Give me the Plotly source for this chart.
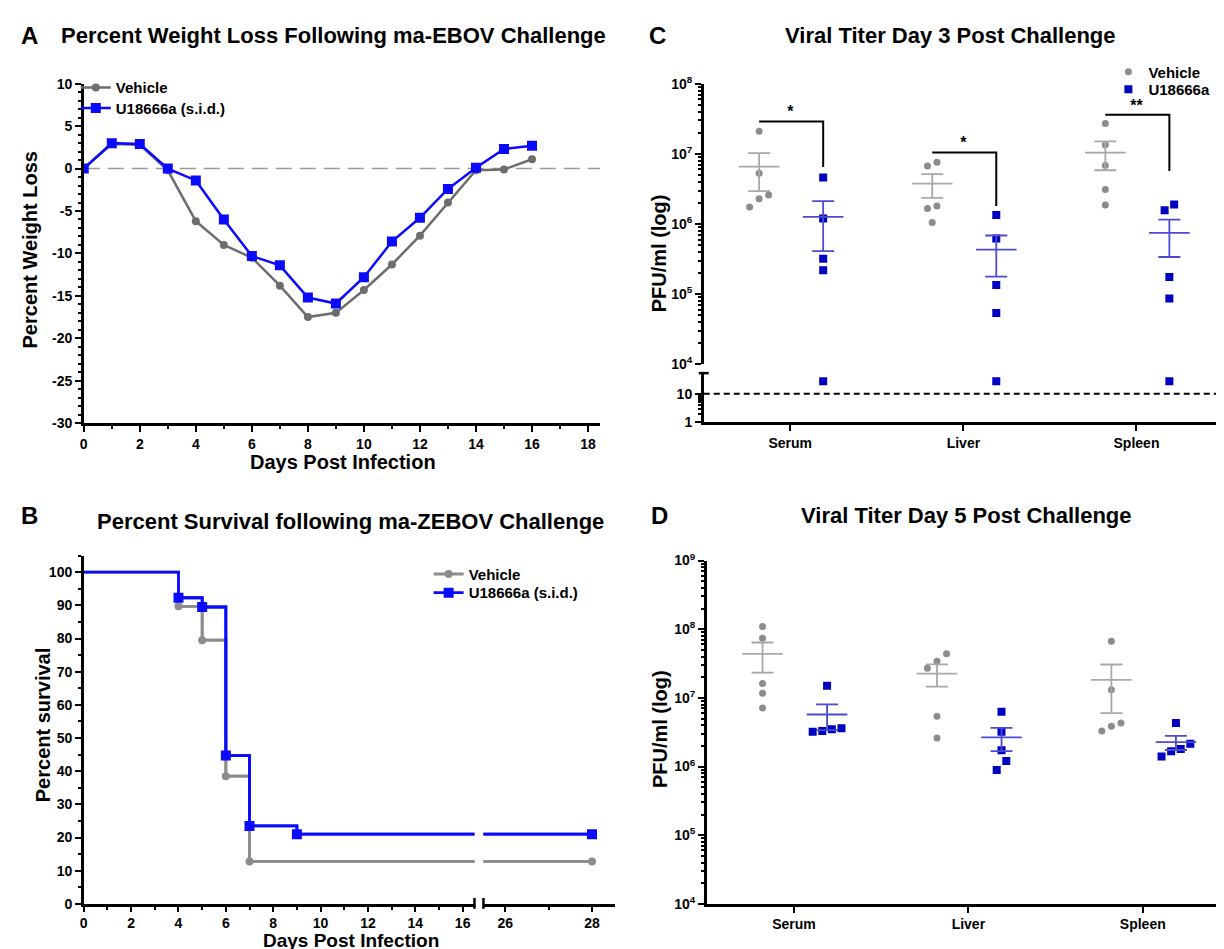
import numpy as np
import plotly.graph_objects as go

# ---- data -------------------------------------------------------------
# A: percent weight change after ma-EBOV challenge
days = list(range(0, 17))
weight_vehicle = [0, 2.9, 2.8, -0.2, -6.2, -9.0, -10.5, -13.8, -17.5, -17.0,
                  -14.3, -11.3, -7.9, -4.0, -0.2, -0.1, 1.1]
weight_u18666a = [0, 3.0, 2.9, 0.0, -1.4, -6.0, -10.3, -11.4, -15.2, -15.9,
                  -12.8, -8.6, -5.8, -2.4, 0.1, 2.3, 2.7]

# B: Kaplan-Meier survival
surv_days_vehicle = [0, 4, 5, 6, 7, 28]
surv_vehicle = [100, 89.7, 79.5, 38.5, 12.8, 12.8]
surv_days_u18666a = [0, 4, 5, 6, 7, 9, 28]
surv_u18666a = [100, 92.3, 89.5, 44.7, 23.5, 21.0, 21.0]

# C / D: viral titers (PFU/ml), five animals per group
organs = ["Serum", "Liver", "Spleen"]
d3_vehicle = [[2.1e7, 5.3e6, 2.6e6, 2.3e6, 1.75e6],
              [7.6e6, 6.7e6, 1.8e6, 1.66e6, 1.05e6],
              [2.7e7, 1.35e7, 6.8e6, 3.1e6, 1.86e6]]
d3_u18666a = [[4.6e6, 1.2e6, 3.2e5, 2.2e5, 27],
              [1.35e6, 6.2e5, 1.35e5, 5.4e4, 27],
              [1.9e6, 1.57e6, 1.75e5, 8.7e4, 27]]
d3_sig = ["*", "*", "**"]
d3_bracket_top = [2.9e7, 1.05e7, 3.6e7]
d3_bracket_bottom = [6.5e6, 1.8e6, 5.7e6]
d3_lod = 10

d5_vehicle = [[1.09e8, 7.4e7, 1.62e7, 1.17e7, 7.1e6],
              [4.4e7, 3.4e7, 2.7e7, 5.4e6, 2.6e6],
              [6.7e7, 1.31e7, 4.3e6, 3.85e6, 3.3e6]]
d5_u18666a = [[1.5e7, 3.6e6, 3.5e6, 3.3e6, 3.2e6],
              [6.3e6, 3.2e6, 1.73e6, 1.2e6, 8.9e5],
              [4.3e6, 2.15e6, 1.8e6, 1.67e6, 1.4e6]]

# ---- style ------------------------------------------------------------
W, H = 1224, 949
FONT = "Liberation Sans, Arial, sans-serif"
GREY_A = "#6d6d6d"
GREY = "#8c8c8c"
GREY_MEAN = "#a8a8a8"
BLUE = "#0a0aff"
DBLUE = "#0000c0"
BLUE_MEAN = "#4a4ad2"


def px(x):
    return x / W


def py(y):
    return 1 - y / H


def bold(size):
    return dict(family=FONT, size=size, color="black", weight="bold")


def swarm(values, center, step=0.055, gap=0.14):
    logs = np.log10(np.array(values, dtype=float))
    order = np.argsort(logs)
    xs = np.zeros(len(values))
    clusters = [[order[0]]]
    for prev, cur in zip(order[:-1], order[1:]):
        if logs[cur] - logs[prev] < gap:
            clusters[-1].append(cur)
        else:
            clusters.append([cur])
    for c in clusters:
        for k, idx in enumerate(c):
            xs[idx] = center + (k - (len(c) - 1) / 2) * step
    return xs


def log_minor(lo, hi):
    return [m * 10 ** d for d in range(lo, hi) for m in range(2, 10)]


axis_base = dict(showline=True, linecolor="black", linewidth=2.5, ticks="outside",
                 ticklen=6, tickwidth=2, tickcolor="black", showgrid=False,
                 zeroline=False, tickfont=bold(14), fixedrange=True)
minor_base = dict(ticks="outside", ticklen=3, tickwidth=1.5, tickcolor="black")

fig = go.Figure()

# ---- A ----------------------------------------------------------------
fig.add_trace(go.Scatter(x=days, y=weight_vehicle, mode="lines+markers", name="Vehicle",
                         line=dict(color=GREY_A, width=2.5),
                         marker=dict(symbol="circle", size=8, color=GREY_A),
                         xaxis="x", yaxis="y", legend="legend"))
fig.add_trace(go.Scatter(x=days, y=weight_u18666a, mode="lines+markers", name="U18666a (s.i.d.)",
                         line=dict(color=BLUE, width=2.5),
                         marker=dict(symbol="square", size=10, color=BLUE),
                         xaxis="x", yaxis="y", legend="legend2"))

# ---- B ----------------------------------------------------------------
for xa in ["x2", "x3"]:
    for d, s, col, sym, size, name, leg in [
            (surv_days_vehicle, surv_vehicle, GREY, "circle", 8, "Vehicle", "legend3"),
            (surv_days_u18666a, surv_u18666a, BLUE, "square", 10, "U18666a (s.i.d.)", "legend4")]:
        fig.add_trace(go.Scatter(x=d, y=s, mode="lines", line=dict(color=col, width=2.8, shape="hv"),
                                 xaxis=xa, yaxis="y2", showlegend=False, hoverinfo="skip"))
        fig.add_trace(go.Scatter(x=d[1:], y=s[1:], mode="lines+markers", name=name,
                                 line=dict(color=col, width=2.8, shape="hv"),
                                 marker=dict(symbol=sym, size=size, color=col),
                                 xaxis=xa, yaxis="y2", legend=leg,
                                 showlegend=(xa == "x2")))


# ---- C / D helpers ----------------------------------------------------
def sem(v):
    v = np.array(v, dtype=float)
    return v.std(ddof=1) / np.sqrt(len(v))


def group_traces(data, offset, color, mean_color, symbol, size, name, xa, ya_hi, ya_lo,
                 legend, showlegend, split=1e4):
    xs_hi, ys_hi, xs_lo, ys_lo = [], [], [], []
    for i, vals in enumerate(data):
        xs = swarm(vals, i + offset)
        for x, v in zip(xs, vals):
            if v >= split:
                xs_hi.append(x)
                ys_hi.append(v)
            else:
                xs_lo.append(x)
                ys_lo.append(v)
    fig.add_trace(go.Scatter(x=xs_hi, y=ys_hi, mode="markers", name=name,
                             marker=dict(symbol=symbol, size=size, color=color),
                             xaxis=xa, yaxis=ya_hi, legend=legend, showlegend=showlegend))
    if xs_lo:
        fig.add_trace(go.Scatter(x=xs_lo, y=ys_lo, mode="markers", showlegend=False,
                                 marker=dict(symbol=symbol, size=size, color=color),
                                 xaxis=xa, yaxis=ya_lo))
    means = [float(np.mean(v)) for v in data]
    sems = [float(sem(v)) for v in data]
    fig.add_trace(go.Scatter(x=[i + offset for i in range(len(data))], y=means, mode="markers",
                             marker=dict(symbol="line-ew-open", size=29, color=mean_color,
                                         line=dict(color=mean_color, width=1.8)),
                             error_y=dict(type="data", array=sems, color=mean_color,
                                          thickness=1.8, width=11),
                             xaxis=xa, yaxis=ya_hi, showlegend=False, hoverinfo="skip"))


# ---- C ----------------------------------------------------------------
group_traces(d3_vehicle, -0.18, GREY, GREY_MEAN, "circle", 7, "Vehicle",
             "x4", "y5", "y4", "legend5", True)
group_traces(d3_u18666a, 0.19, DBLUE, BLUE_MEAN, "square", 8, "U18666a",
             "x4", "y5", "y4", "legend6", True)
for i, (lab, top, bot) in enumerate(zip(d3_sig, d3_bracket_top, d3_bracket_bottom)):
    fig.add_trace(go.Scatter(x=[i - 0.18, i + 0.19, i + 0.19], y=[top, top, bot], mode="lines",
                             line=dict(color="black", width=2), xaxis="x4", yaxis="y5",
                             showlegend=False, hoverinfo="skip"))
    fig.add_trace(go.Scatter(x=[i], y=[top], mode="text", text=[lab], textposition="top center",
                             textfont=bold(16), xaxis="x4", yaxis="y5", showlegend=False,
                             hoverinfo="skip"))
fig.add_trace(go.Scatter(x=[-0.5, 2.5], y=[d3_lod, d3_lod], mode="lines",
                         line=dict(color="black", width=2, dash="6px,4px"),
                         xaxis="x4", yaxis="y4", showlegend=False, hoverinfo="skip"))

# ---- D ----------------------------------------------------------------
group_traces(d5_vehicle, -0.18, GREY, GREY_MEAN, "circle", 7, "Vehicle",
             "x5", "y6", "y6", "legend5", False)
group_traces(d5_u18666a, 0.19, DBLUE, BLUE_MEAN, "square", 8, "U18666a",
             "x5", "y6", "y6", "legend6", False)

# ---- axes -------------------------------------------------------------
a_y = list(range(-30, 11, 5))
fig.update_layout(
    xaxis=dict(axis_base, domain=[px(72), px(590)], range=[0, 18.43], anchor="y",
               tickvals=list(range(0, 19, 2)), minor=dict(minor_base, dtick=1)),
    yaxis=dict(axis_base, domain=[py(413), py(67)], range=[-30, 10], anchor="x",
               tickvals=a_y, ticktext=[str(v) for v in a_y], minor=dict(minor_base, dtick=1)),
    xaxis2=dict(axis_base, domain=[px(72), px(464)], range=[0, 16.5], anchor="y2", ticklen=5,
                tickvals=list(range(0, 17, 2)), minor=dict(minor_base, dtick=1)),
    xaxis3=dict(axis_base, domain=[px(473), px(605)], range=[25.5, 28.53], anchor="y2", ticklen=5,
                tickvals=[26, 28], minor=dict(minor_base, tickvals=[27])),
    yaxis2=dict(axis_base, domain=[py(903), py(548)], range=[0, 105], anchor="x2",
                tickvals=list(range(0, 101, 10)), minor=dict(minor_base, dtick=5)),
    xaxis4=dict(axis_base, domain=[px(694), px(1215)], range=[-0.5, 2.5], anchor="y4",
                tickvals=[0, 1, 2], ticktext=organs),
    yaxis4=dict(axis_base, type="log", domain=[py(412), py(362)], range=[0, 1.72], anchor="x4",
                tickvals=[1, 10], ticktext=["1", "10"],
                minor=dict(minor_base, tickvals=log_minor(0, 1))),
    yaxis5=dict(axis_base, type="log", domain=[py(353), py(67)], range=[4, 8], anchor="x4",
                tickvals=[10 ** k for k in range(4, 9)],
                ticktext=["10<sup>%d</sup>" % k for k in range(4, 9)],
                minor=dict(minor_base, tickvals=log_minor(4, 8))),
    xaxis5=dict(axis_base, domain=[px(697), px(1222)], range=[-0.5, 2.5], anchor="y6",
                tickvals=[0, 1, 2], ticktext=organs),
    yaxis6=dict(axis_base, type="log", domain=[py(903), py(553)], range=[4, 9], anchor="x5",
                tickvals=[10 ** k for k in range(4, 10)],
                ticktext=["10<sup>%d</sup>" % k for k in range(4, 10)],
                minor=dict(minor_base, tickvals=log_minor(4, 9))),
)

# one legend per entry so each row sits where the reference puts it
legend_base = dict(bgcolor="rgba(0,0,0,0)", font=bold(15), itemwidth=30,
                   xanchor="left", yanchor="middle", borderwidth=0)
fig.update_layout(
    legend=dict(legend_base, x=px(64), y=py(71)),
    legend2=dict(legend_base, x=px(64), y=py(92)),
    legend3=dict(legend_base, x=px(418), y=py(567)),
    legend4=dict(legend_base, x=px(418), y=py(586)),
    legend5=dict(legend_base, x=px(1100), y=py(55)),
    legend6=dict(legend_base, x=px(1100), y=py(73)),
)

# ---- reference lines / break marks ------------------------------------
shapes = [
    dict(type="line", xref="x domain", yref="y", x0=0, x1=1, y0=0, y1=0,
         line=dict(color="#9a9a9a", width=1.5, dash="16px,8px"), layer="below"),
    dict(type="line", xref="paper", yref="paper", x0=px(464), x1=px(464), y0=py(908), y1=py(897),
         line=dict(color="black", width=2.5)),
    dict(type="line", xref="paper", yref="paper", x0=px(473), x1=px(473), y0=py(908), y1=py(897),
         line=dict(color="black", width=2.5)),
    dict(type="line", xref="paper", yref="paper", x0=px(689), x1=px(699), y0=py(362), y1=py(362),
         line=dict(color="black", width=2.5)),
]

# ---- titles -----------------------------------------------------------
ann = []


def text(x, y, s, size, angle=0):
    ann.append(dict(x=px(x), y=py(y), xref="paper", yref="paper", text=s, showarrow=False,
                    font=bold(size), textangle=angle, xanchor="center", yanchor="middle"))


text(18, 18, "A", 24)
text(18, 507, "B", 24)
text(648, 18, "C", 24)
text(650, 507, "D", 24)
text(323, 18, "Percent Weight Loss Following ma-EBOV Challenge", 22)
text(340, 513, "Percent Survival following ma-ZEBOV Challenge", 22)
text(942, 18, "Viral Titer Day 3 Post Challenge", 22)
text(958, 507, "Viral Titer Day 5 Post Challenge", 22)
text(332, 453, "Days Post Infection", 20)
text(340, 940, "Days Post Infection", 19)
text(18, 236, "Percent Weight Loss", 20, -90)
text(31, 720, "Percent survival", 20, -90)
text(650, 240, "PFU/ml (log)", 20, -90)
text(650, 725, "PFU/ml (log)", 20, -90)

fig.update_layout(width=W, height=H, autosize=False, margin=dict(l=0, r=0, t=0, b=0),
                  plot_bgcolor="white", paper_bgcolor="white", shapes=shapes, annotations=ann,
                  font=dict(family=FONT, color="black"), hovermode=False)

fig.write_html("out.html")
